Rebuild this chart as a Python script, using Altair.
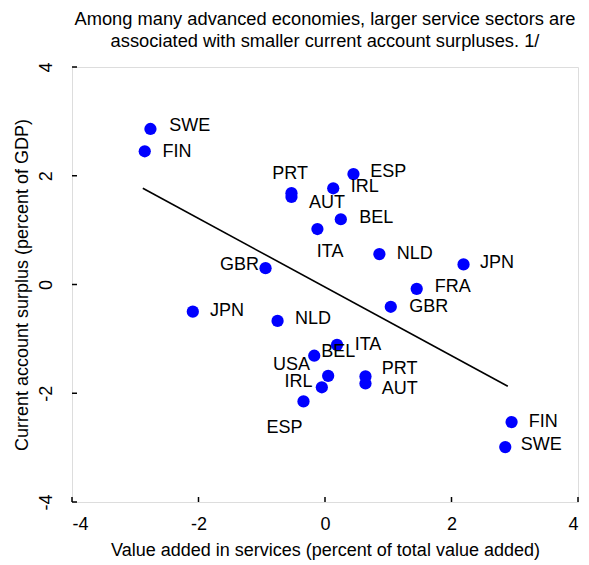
import altair as alt
import pandas as pd

# Country labels (upper group first, then lower group)
countries = ["SWE", "FIN", "PRT", "AUT", "IRL", "ESP", "BEL", "ITA", "GBR", "NLD", "JPN",
             "FRA", "GBR", "NLD", "ITA", "BEL", "USA", "IRL", "ESP", "PRT", "AUT", "FIN", "SWE", "JPN"]
services = [-2.76, -2.85, -0.53, -0.53, 0.13, 0.45, 0.25, -0.12, -0.94, 0.86, 2.19,
            1.45, 1.04, -0.75, 0.19, -0.17, 0.05, -0.05, -0.34, 0.64, 0.64, 2.95, 2.85, -2.09]
surplus = [2.86, 2.45, 1.68, 1.61, 1.77, 2.03, 1.20, 1.02, 0.30, 0.56, 0.37,
           -0.08, -0.41, -0.67, -1.11, -1.31, -1.68, -1.89, -2.15, -1.69, -1.82, -2.53, -2.99, -0.50]
# where each country label sits (data units, label centre)
label_x = [-2.14, -2.34, -0.55, 0.03, 0.63, 1.00, 0.81, 0.08, -1.35, 1.42, 2.72,
           2.02, 1.64, -0.19, 0.68, 0.21, -0.53, -0.42, -0.64, 1.18, 1.18, 3.45, 3.42, -1.55]
label_y = [2.91, 2.44, 2.04, 1.49, 1.79, 2.06, 1.22, 0.60, 0.35, 0.56, 0.39,
           -0.04, -0.41, -0.64, -1.11, -1.25, -1.48, -1.79, -2.63, -1.56, -1.93, -2.52, -2.95, -0.48]

# fitted line end points
line_x = [-2.88, 2.89]
line_y = [1.77, -1.87]

tick_values = [-4, -2, 0, 2, 4]

W, H = 506, 435
FONT = "Liberation Sans"

pts = pd.DataFrame({"country": countries, "x": services, "y": surplus,
                    "lx": label_x, "ly": label_y})
fit = pd.DataFrame({"x": line_x, "y": line_y})
ticks = pd.DataFrame({"v": tick_values})

xscale = alt.Scale(domain=[-4, 4], nice=False, zero=False)
yscale = alt.Scale(domain=[-4, 4], nice=False, zero=False)

xaxis = alt.Axis(values=tick_values, title="Value added in services (percent of total value added)",
                 labelExpr="'' + datum.value",
                 grid=False, domain=False, ticks=False, labelPadding=13, titlePadding=8,
                 labelFontSize=18, titleFontSize=18, titleFontWeight="normal",
                 labelFont=FONT, titleFont=FONT, labelColor="black", titleColor="black")
yaxis = alt.Axis(values=tick_values, title="Current account surplus (percent of GDP)",
                 labelExpr="'' + datum.value",
                 grid=False, domain=False, ticks=False, labelAngle=270, labelAlign="center",
                 labelBaseline="alphabetic", labelPadding=21, titlePadding=6,
                 labelFontSize=18, titleFontSize=18, titleFontWeight="normal",
                 labelFont=FONT, titleFont=FONT, labelColor="black", titleColor="black")

line = alt.Chart(fit).mark_line(color="black", strokeWidth=1.6).encode(
    x=alt.X("x:Q", scale=xscale, axis=xaxis),
    y=alt.Y("y:Q", scale=yscale, axis=yaxis),
)

xticks = alt.Chart(ticks).mark_rule(color="black", strokeWidth=1.5).encode(
    x=alt.X("v:Q", scale=xscale),
    y=alt.value(H), y2=alt.value(H - 5),
)
yticks = alt.Chart(ticks).mark_rule(color="black", strokeWidth=1.5).encode(
    y=alt.Y("v:Q", scale=yscale),
    x=alt.value(0), x2=alt.value(5),
)

dots = alt.Chart(pts).mark_circle(color="#0000FF", size=150, opacity=1).encode(
    x=alt.X("x:Q", scale=xscale),
    y=alt.Y("y:Q", scale=yscale),
)

labels = alt.Chart(pts).mark_text(font=FONT, fontSize=18, color="black",
                                  align="center", baseline="middle").encode(
    x=alt.X("lx:Q", scale=xscale),
    y=alt.Y("ly:Q", scale=yscale),
    text="country:N",
)

chart = alt.layer(line, xticks, yticks, dots, labels).properties(
    width=W, height=H,
    autosize=alt.AutoSizeParams(type="none"),
    padding={"left": 64, "top": 59, "right": 3, "bottom": 63},
    title=alt.TitleParams(
        ["Among many advanced economies, larger service sectors are",
         "associated with smaller current account surpluses. 1/"],
        fontSize=18.3, fontWeight="normal", font=FONT, color="black",
        anchor="middle", frame="group", offset=11, lineHeight=22,
    ),
).configure_view(stroke="black", strokeWidth=2).configure(background="white")

chart.save("out.html", embed_options={"renderer": "svg", "actions": False})
